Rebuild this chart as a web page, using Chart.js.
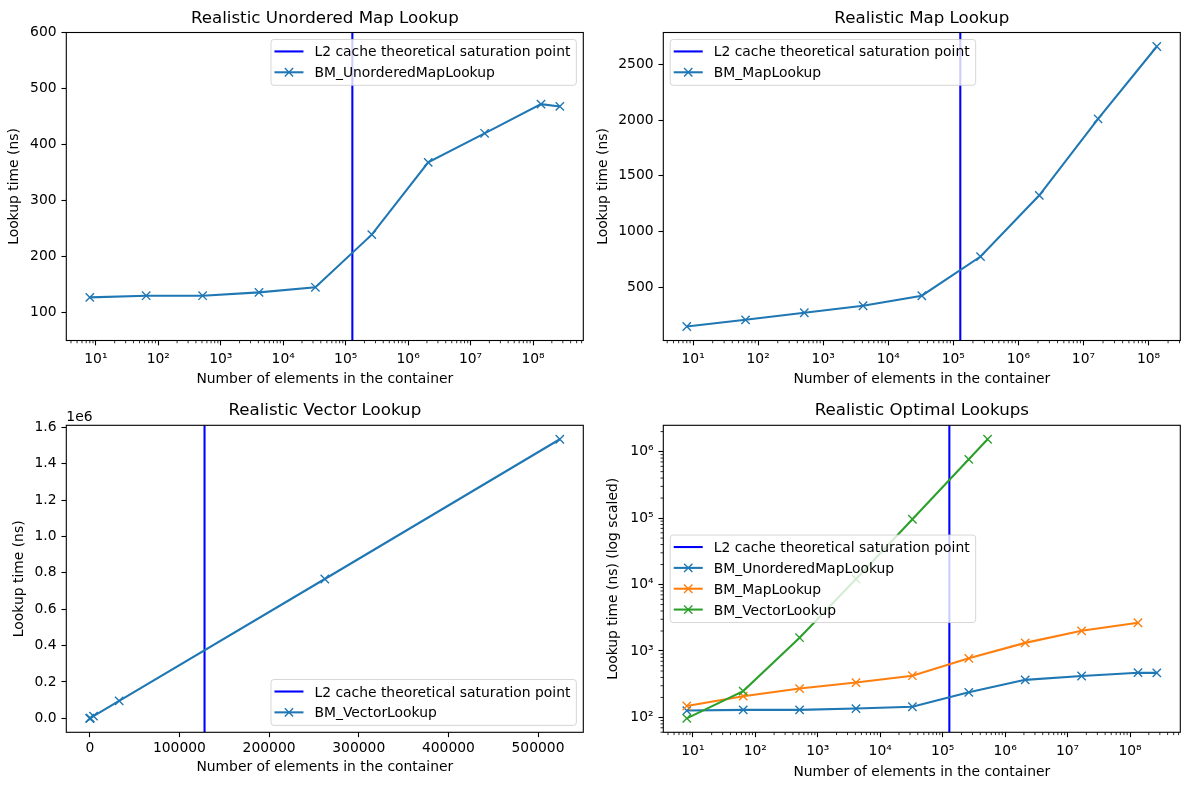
<!DOCTYPE html>
<html><head><meta charset="utf-8">
<script src="https://cdn.jsdelivr.net/npm/chart.js@4.4.1/dist/chart.umd.min.js"></script>
<style>
html,body{margin:0;padding:0;background:#fff;}
#wrap{position:relative;width:1189px;height:790px;overflow:hidden;background:#fff;}
canvas{position:absolute;}
</style></head><body>
<div id="wrap">
<canvas id="c1" width="595" height="395" style="left:0;top:0;width:595px;height:395px"></canvas>
<canvas id="c2" width="594" height="395" style="left:595px;top:0;width:594px;height:395px"></canvas>
<canvas id="c3" width="595" height="395" style="left:0;top:395px;width:595px;height:395px"></canvas>
<canvas id="c4" width="594" height="395" style="left:595px;top:395px;width:594px;height:395px"></canvas>
</div>
<script>
// ---------------- data ----------------
const l2Point = 128000;
const sizesUnordered = [8, 64, 512, 4096, 32768, 262144, 2097152, 16777216, 134217728, 268435456];
const unorderedNs = [127, 130, 130, 136, 145, 239, 368, 420, 472, 468];
const sizesMap = [8, 64, 512, 4096, 32768, 262144, 2097152, 16777216, 134217728];
const mapNs = [149, 209, 272, 335, 425, 776, 1325, 2011, 2659];
const sizesVector = [8, 64, 512, 4096, 32768, 262144, 524288];
const vectorNs = [97, 249, 1585, 12100, 96000, 766000, 1534000];

// tick values
const logXTicks = [1e1, 1e2, 1e3, 1e4, 1e5, 1e6, 1e7, 1e8];
const tlYTicks = [100, 200, 300, 400, 500, 600];
const trYTicks = [500, 1000, 1500, 2000, 2500];
const blXTicks = [0, 100000, 200000, 300000, 400000, 500000];
const blYTicks = [0, 200000, 400000, 600000, 800000, 1000000, 1200000, 1400000, 1600000];
const brYTicks = [1e2, 1e3, 1e4, 1e5, 1e6];

// text
const titles = ['Realistic Unordered Map Lookup', 'Realistic Map Lookup', 'Realistic Vector Lookup', 'Realistic Optimal Lookups'];
const xLabel = 'Number of elements in the container';
const yLabel = 'Lookup time (ns)';
const yLabelLog = 'Lookup time (ns) (log scaled)';
const l2Label = 'L2 cache theoretical saturation point';

// ---------------- helpers ----------------
const FS = 13.89;
const FONT = '"DejaVu Sans"';
Chart.defaults.font.family = FONT;
Chart.defaults.font.size = FS;
Chart.defaults.color = '#000';

const C_BLUE = '#1f77b4', C_ORANGE = '#ff7f0e', C_GREEN = '#2ca02c', C_L2 = '#0000ff';
const toPoints = (xs, ys) => xs.map((x, i) => ({x: x, y: ys[i]}));
const SUP = {'0':'\u2070','1':'\u00b9','2':'\u00b2','3':'\u00b3','4':'\u2074','5':'\u2075','6':'\u2076','7':'\u2077','8':'\u2078','9':'\u2079','-':'\u207b'};
const powLabel = v => '10' + String(Math.round(Math.log10(v))).split('').map(c => SUP[c]).join('');

function seriesDs(label, xs, ys, color, order) {
  return {label, data: toPoints(xs, ys), borderColor: color, backgroundColor: color,
    borderWidth: 2.08, pointStyle: 'crossRot', pointRadius: 5.9, pointBorderWidth: 1.39,
    pointBorderColor: color, tension: 0, fill: false, order, hasMarker: true};
}
function l2Ds(yMin, yMax) {
  return {label: l2Label, data: [{x: l2Point, y: yMin}, {x: l2Point, y: yMax}],
    borderColor: C_L2, backgroundColor: C_L2, borderWidth: 2.08, pointRadius: 0, order: 10, hasMarker: false};
}
const gridOpts = {display: true, drawOnChartArea: false, drawTicks: true, tickLength: 4.86, tickWidth: 1.1, tickColor: '#000'};

function axis(o) {
  const s = {
    type: o.type, min: o.min, max: o.max,
    afterBuildTicks: sc => { sc.ticks = o.ticks.map(v => ({value: v})); },
    ticks: {callback: o.cb, padding: o.pad, autoSkip: false, maxRotation: 0, minRotation: 0, color: '#000', font: {size: FS}},
    grid: gridOpts, border: {display: false},
    title: {display: true, text: o.title, color: '#000', font: {size: FS}, padding: o.titlePad},
    afterFit: sc => { if (o.w !== undefined) sc.width = o.w; if (o.h !== undefined) sc.height = o.h; }
  };
  return s;
}

// decorations: minor ticks, spines, offset text, legend
const decor = {
  id: 'mplDecor',
  afterDatasetsDraw(chart, args, opts) {
    const ctx = chart.ctx, a = chart.chartArea;
    ctx.save();
    ctx.strokeStyle = '#000'; ctx.lineWidth = 0.83;
    ['x', 'y'].forEach(id => {
      const sc = chart.scales[id];
      if (sc.type !== 'logarithmic') return;
      const d0 = Math.floor(Math.log10(sc.min)), d1 = Math.ceil(Math.log10(sc.max));
      for (let d = d0; d <= d1; d++) {
        for (let k = 2; k <= 9; k++) {
          const v = k * Math.pow(10, d);
          if (v < sc.min || v > sc.max) continue;
          const p = sc.getPixelForValue(v);
          ctx.beginPath();
          if (id === 'x') { ctx.moveTo(p, a.bottom); ctx.lineTo(p, a.bottom + 2.78); }
          else { ctx.moveTo(a.left, p); ctx.lineTo(a.left - 2.78, p); }
          ctx.stroke();
        }
      }
    });
    ctx.lineWidth = 1.1; ctx.strokeStyle = '#000';
    ctx.strokeRect(a.left, a.top, a.right - a.left, a.bottom - a.top);
    if (opts.offsetText) {
      ctx.fillStyle = '#000'; ctx.font = FS + 'px ' + FONT;
      ctx.textAlign = 'left'; ctx.textBaseline = 'alphabetic';
      ctx.fillText(opts.offsetText, a.left, a.top - 4.3);
    }
    ctx.restore();
  },
  afterDraw(chart, args, opts) {
    const ctx = chart.ctx, a = chart.chartArea;
    const items = chart.data.datasets.map(d => ({label: d.label, color: d.borderColor, marker: d.hasMarker}));
    ctx.save();
    ctx.font = FS + 'px ' + FONT;
    const tw = Math.max.apply(null, items.map(i => ctx.measureText(i.label).width));
    const w = 43.5 + tw + 6;
    const h = 4.16 + 20.84 * items.length;
    const pad = 6.94;
    let left, top;
    const loc = opts.loc;
    if (loc === 'upper right') { left = a.right - pad - w; top = a.top + pad; }
    else if (loc === 'upper left') { left = a.left + pad; top = a.top + pad; }
    else if (loc === 'lower right') { left = a.right - pad - w; top = a.bottom - pad - h; }
    else { left = a.left + pad; top = (a.top + a.bottom) / 2 - h / 2; }
    const r = 3;
    ctx.beginPath();
    ctx.moveTo(left + r, top); ctx.lineTo(left + w - r, top); ctx.arcTo(left + w, top, left + w, top + r, r);
    ctx.lineTo(left + w, top + h - r); ctx.arcTo(left + w, top + h, left + w - r, top + h, r);
    ctx.lineTo(left + r, top + h); ctx.arcTo(left, top + h, left, top + h - r, r);
    ctx.lineTo(left, top + r); ctx.arcTo(left, top, left + r, top, r);
    ctx.closePath();
    ctx.fillStyle = 'rgba(255,255,255,0.8)'; ctx.fill();
    ctx.strokeStyle = 'rgba(204,204,204,0.8)'; ctx.lineWidth = 1; ctx.stroke();
    items.forEach((it, i) => {
      const cy = top + 12 + 20.84 * i;
      ctx.strokeStyle = it.color; ctx.lineWidth = 2.08;
      ctx.beginPath(); ctx.moveTo(left + 3.5, cy); ctx.lineTo(left + 32.5, cy); ctx.stroke();
      if (it.marker) {
        const mx = left + 18, m = 4.17;
        ctx.lineWidth = 1.39;
        ctx.beginPath();
        ctx.moveTo(mx - m, cy - m); ctx.lineTo(mx + m, cy + m);
        ctx.moveTo(mx - m, cy + m); ctx.lineTo(mx + m, cy - m);
        ctx.stroke();
      }
      ctx.fillStyle = '#000'; ctx.textAlign = 'left'; ctx.textBaseline = 'alphabetic';
      ctx.fillText(it.label, left + 43.5, cy + 5);
    });
    ctx.restore();
  }
};

function makeChart(id, cfg) {
  return new Chart(document.getElementById(id), {
    type: 'line',
    data: {datasets: cfg.datasets},
    options: {
      responsive: false, animation: false, devicePixelRatio: 1, events: [],
      layout: {padding: cfg.padding},
      plugins: {
        legend: {display: false}, tooltip: {enabled: false},
        title: {display: true, text: cfg.title, fullSize: false, color: '#000',
          font: {size: 16.67, weight: 'normal'}, padding: cfg.titlePad},
        mplDecor: cfg.decor
      },
      scales: {x: axis(cfg.x), y: axis(cfg.y)}
    },
    plugins: [decor]
  });
}

const intLabel = v => String(v);
const mLabel = v => (v / 1e6).toFixed(1);

makeChart('c1', {
  title: titles[0], titlePad: {top: 8.2, bottom: 4.3},
  padding: {left: 0, top: 0, right: 11.7, bottom: 0},
  datasets: [l2Ds(50, 600), seriesDs('BM_UnorderedMapLookup', sizesUnordered, unorderedNs, C_BLUE, 3)],
  x: {type: 'logarithmic', min: 3.364, max: 6.385e8, ticks: logXTicks, cb: powLabel, pad: 5.6, title: xLabel, titlePad: {top: 0, bottom: 7.2}, h: 54.5},
  y: {type: 'linear', min: 50, max: 600, ticks: tlYTicks, cb: intLabel, pad: 4.9, title: yLabel, titlePad: {top: 6.2, bottom: 0}, w: 66.3},
  decor: {loc: 'upper right'}
});

makeChart('c2', {
  title: titles[1], titlePad: {top: 8.2, bottom: 4.3},
  padding: {left: 0, top: 0, right: 8.7, bottom: 0},
  datasets: [l2Ds(23.5, 2784.5), seriesDs('BM_MapLookup', sizesMap, mapNs, C_BLUE, 3)],
  x: {type: 'logarithmic', min: 3.483, max: 3.083e8, ticks: logXTicks, cb: powLabel, pad: 5.6, title: xLabel, titlePad: {top: 0, bottom: 7.2}, h: 54.5},
  y: {type: 'linear', min: 23.5, max: 2784.5, ticks: trYTicks, cb: intLabel, pad: 4.9, title: yLabel, titlePad: {top: 0.3, bottom: 0}, w: 68.3},
  decor: {loc: 'upper left'}
});

makeChart('c3', {
  title: titles[2], titlePad: {top: 5.9, bottom: 4.4},
  padding: {left: 0, top: 0, right: 11.7, bottom: 0},
  datasets: [l2Ds(-76598, 1610695), seriesDs('BM_VectorLookup', sizesVector, vectorNs, C_BLUE, 3)],
  x: {type: 'linear', min: -26206, max: 550502, ticks: blXTicks, cb: intLabel, pad: 2.5, title: xLabel, titlePad: {top: 0, bottom: 14.5}, h: 57.7},
  y: {type: 'linear', min: -76598, max: 1610695, ticks: blYTicks, cb: mLabel, pad: 4.9, title: yLabel, titlePad: {top: 11, bottom: 0}, w: 66.3},
  decor: {loc: 'lower right', offsetText: '1e6'}
});

makeChart('c4', {
  title: titles[3], titlePad: {top: 5.9, bottom: 4.4},
  padding: {left: 0, top: 0, right: 8.7, bottom: 0},
  datasets: [l2Ds(59.8, 2.488e6),
    seriesDs('BM_UnorderedMapLookup', sizesUnordered, unorderedNs, C_BLUE, 3),
    seriesDs('BM_MapLookup', sizesMap, mapNs, C_ORANGE, 2),
    seriesDs('BM_VectorLookup', sizesVector, vectorNs, C_GREEN, 1)],
  x: {type: 'logarithmic', min: 3.364, max: 6.385e8, ticks: logXTicks, cb: powLabel, pad: 5.6, title: xLabel, titlePad: {top: 0, bottom: 9.2}, h: 57.7},
  y: {type: 'logarithmic', min: 59.8, max: 2.488e6, ticks: brYTicks, cb: powLabel, pad: 4.9, title: yLabelLog, titlePad: {top: 10.4, bottom: 0}, w: 68.3},
  decor: {loc: 'center left'}
});
</script>
</body></html>
